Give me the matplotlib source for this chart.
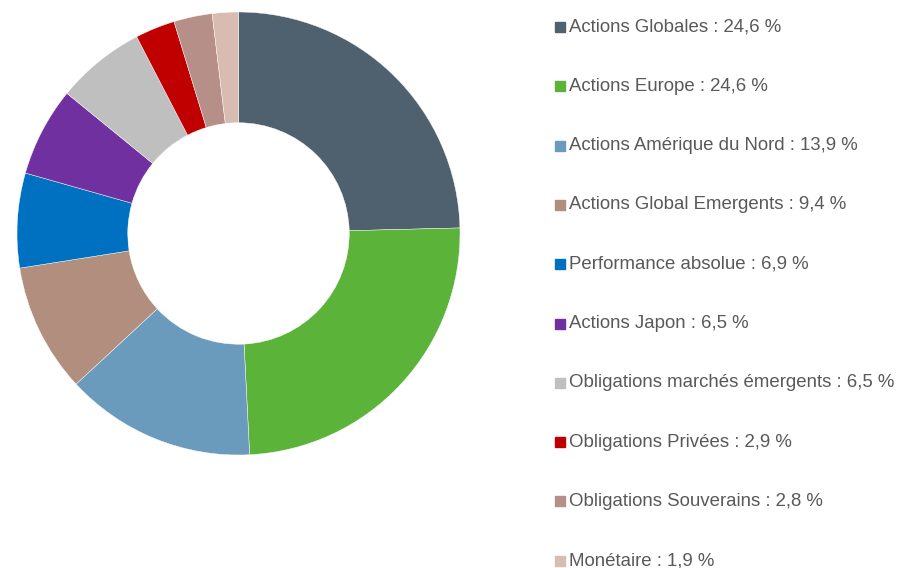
import matplotlib.pyplot as plt
from matplotlib.patches import Rectangle

# données de l'allocation
categories = ['Actions Globales', 'Actions Europe', 'Actions Amérique du Nord',
              'Actions Global Emergents', 'Performance absolue', 'Actions Japon',
              'Obligations marchés émergents', 'Obligations Privées',
              'Obligations Souverains', 'Monétaire']
values = [24.6, 24.6, 13.9, 9.4, 6.9, 6.5, 6.5, 2.9, 2.8, 1.9]
colors = ['#4f606e', '#5bb33a', '#6a9bbd', '#b18e7d', '#0070c0', '#7030a0',
          '#bfbfbf', '#c00000', '#b69088', '#d8bcb2']

plt.rcParams['font.family'] = ['Liberation Sans', 'DejaVu Sans']

W, H = 897, 568
fig = plt.figure(figsize=(W / 100, H / 100), dpi=100)

# anneau
cx, cy, r = 238.5, 233.5, 221.5
ax = fig.add_axes([(cx - r) / W, (H - cy - r) / H, 2 * r / W, 2 * r / H])
ax.pie(values, colors=colors, startangle=90, counterclock=False,
       wedgeprops=dict(width=0.5, edgecolor='white', linewidth=0.3))
ax.set_xlim(-1, 1)
ax.set_ylim(-1, 1)
ax.set_aspect('equal')

# légende
y0, step = 27, 59.3
for i, (cat, val, col) in enumerate(zip(categories, values, colors)):
    y = y0 + i * step
    fig.patches.append(Rectangle(((555) / W, (H - y - 5) / H), 10 / W, 10 / H,
                                 transform=fig.transFigure, color=col))
    txt = '%s : %s %%' % (cat, ('%.1f' % val).replace('.', ','))
    fig.text(569 / W, (H - y) / H, txt, fontsize=13.4, color='#595959',
             va='center', ha='left')

fig.savefig('out.png', dpi=100)
